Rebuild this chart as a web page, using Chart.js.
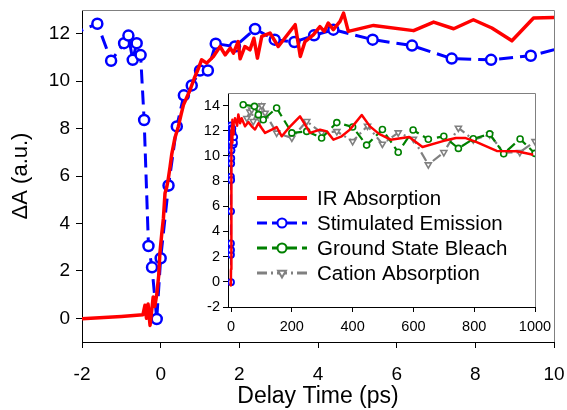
<!DOCTYPE html>
<html>
<head>
<meta charset="utf-8">
<script src="https://cdn.jsdelivr.net/npm/chart.js@4.4.1/dist/chart.umd.min.js"></script>
<style>
  html, body { margin: 0; padding: 0; background: #fff; }
  #wrap { position: relative; width: 567px; height: 410px; }
  #mainChart { position: absolute; left: 0; top: 0; }
  #insetChart { position: absolute; left: 188px; top: 84px; }
</style>
</head>
<body>
<div id="wrap">
  <canvas id="mainChart" width="567" height="410"></canvas>
  <canvas id="insetChart" width="372" height="262"></canvas>
</div>
<script>
// IR absorption, short delays (ps)
const irTime = [-2.0, -1.0, -0.45, -0.40, -0.36, -0.32, -0.27, -0.23, -0.19, -0.15, -0.10, -0.05, -0.02,
  0.03, 0.07, 0.11, 0.15, 0.19, 0.24, 0.28, 0.36, 0.45, 0.52, 0.58, 0.66, 0.75, 0.85, 0.95, 1.04,
  1.17, 1.34, 1.51, 1.64, 1.77, 1.85, 1.97, 2.02, 2.14, 2.27, 2.37, 2.46, 2.57, 2.78, 2.99, 3.42,
  3.55, 3.67, 3.88, 4.05, 4.16, 4.26, 4.39, 4.56, 4.65, 4.77, 5.41, 6.43, 6.94, 7.45, 7.95, 8.42,
  8.93, 9.48, 10.03];
const irValue = [-0.02, 0.08, 0.15, 0.55, 0.0, 0.6, -0.3, 0.3, 0.9, 0.5, 1.0, 1.8, 2.74,
  3.6, 4.22, 5.27, 5.5, 5.84, 6.4, 6.9, 7.59, 8.09, 8.6, 9.0, 9.3, 9.64, 10.1, 10.5, 10.9,
  10.76, 11.04, 11.46, 11.11, 11.39, 11.18, 11.67, 10.94, 11.46, 11.32, 11.81, 10.97, 11.89, 12.03, 11.46, 12.38,
  11.04, 11.67, 11.95, 12.3, 12.1, 12.45, 12.17, 12.52, 12.87, 12.1, 12.35, 12.13, 12.49, 12.21, 12.59, 12.24,
  11.7, 12.66, 12.69];

// IR absorption, long delays (inset only)
const irLongTime = [13, 20, 24, 30, 35, 46, 57, 68, 79, 90, 101, 112, 134, 150, 167, 189, 227, 260, 293, 315,
  337, 364, 391, 430, 457, 487, 525, 586, 630, 700, 740, 770, 808, 874, 940, 994];
const irLongValue = [13.0, 12.4, 13.3, 12.6, 13.0, 12.35, 12.7, 12.35, 12.1, 12.6, 12.2, 11.83, 12.09, 12.3, 11.56, 12.2, 13.14, 11.83, 12.09, 11.95,
  11.29, 11.56, 12.09, 13.25, 12.35, 11.75, 11.29, 11.5, 10.71, 11.2, 11.43, 11.43, 11.1, 10.4, 10.37, 10.1];

// Stimulated emission (ps)
const seTime = [-2.3, -1.61, -1.26, -0.93, -0.82, -0.71, -0.61, -0.51, -0.42, -0.31, -0.22, -0.10, 0.0,
  0.20, 0.41, 0.59, 0.79, 1.0, 1.2, 1.40, 1.89, 2.40, 2.90, 3.40, 3.90, 4.39, 5.39, 6.39, 7.40, 8.40, 9.41, 10.4];
const seValue = [11.95, 12.42, 10.86, 11.6, 11.92, 10.9, 11.6, 11.1, 8.36, 3.05, 2.15, -0.03, 2.53,
  5.6, 8.09, 9.4, 9.82, 10.45, 10.45, 11.58, 11.46, 12.2, 11.75, 11.65, 11.93, 12.17, 11.75, 11.5, 10.95, 10.9, 11.07, 11.5];

// Ground state bleach (inset)
const gsbTime = [40, 77, 90, 106, 150, 200, 249, 298, 348, 400, 446, 498, 550, 599, 649, 700, 748, 797, 851, 897, 951, 1000];
const gsbValue = [14.07, 13.94, 13.28, 12.88, 13.81, 11.83, 11.95, 11.43, 12.65, 12.3, 10.86, 12.1, 10.29, 12.06, 11.32, 11.56, 10.6, 11.36, 11.75, 10.18, 11.35, 10.2];

// Cation absorption (inset)
const cationTime = [52, 62, 68, 73, 90, 95, 101, 112, 150, 200, 249, 298, 348, 400, 449, 498, 550, 600, 649, 700, 748, 797, 851, 897, 950, 1000];
const cationValue = [13.0, 13.5, 13.67, 12.75, 13.8, 12.88, 14.0, 13.41, 11.83, 11.43, 12.75, 11.83, 11.95, 11.16, 12.38, 10.95, 11.85, 11.35, 9.31, 10.29, 12.22, 11.29, 11.69, 10.27, 10.29, 11.16];

const mainXTicks = [-2, 0, 2, 4, 6, 8, 10];
const mainYTicks = [0, 2, 4, 6, 8, 10, 12];
const insetXTicks = [0, 200, 400, 600, 800, 1000];
const insetYTicks = [-2, 0, 2, 4, 6, 8, 10, 12, 14];
const legendLabels = ["IR Absorption", "Stimulated Emission", "Ground State Bleach", "Cation Absorption"];

const RED = "#ff0000", BLUE = "#0000ff", GREEN = "#008000", GRAY = "#808080";
const FONT = "'Liberation Sans', Arial, sans-serif";

Chart.defaults.font.family = FONT;
Chart.defaults.color = "#000";

function toPoints(xs, ys) {
    return xs.map((x, i) => ({ x: x, y: ys[i] }));
}

function axis(min, max, ticks, fontSize, tickLen, pad, fit) {
    return {
        type: "linear",
        min: min,
        max: max,
        afterBuildTicks: s => { s.ticks = ticks.map(v => ({ value: v })); },
        afterFit: s => {
            fit(s);
            // no extra room for overflowing labels, the layout padding sets the plot box
            s.paddingTop = s.paddingBottom = s.paddingLeft = s.paddingRight = 0;
        },
        grid: { drawOnChartArea: false, color: "#000", tickColor: "#000", tickLength: tickLen, lineWidth: 1 },
        border: { display: true, color: "#000", width: 1 },
        ticks: { font: { size: fontSize }, padding: pad, maxRotation: 0, autoSkip: false, callback: v => String(v) }
    };
}

// grey top/right frame and optional white plot background
const framePlugin = {
    id: "frame",
    beforeDraw(chart, args, opts) {
        if (opts.fill) {
            const a = chart.chartArea, ctx = chart.ctx;
            ctx.save();
            ctx.fillStyle = opts.fill;
            ctx.fillRect(a.left, a.top, a.right - a.left, a.bottom - a.top);
            ctx.restore();
        }
    },
    afterDraw(chart) {
        const a = chart.chartArea, ctx = chart.ctx;
        ctx.save();
        ctx.strokeStyle = GRAY;
        ctx.lineWidth = 1;
        ctx.beginPath();
        ctx.moveTo(Math.round(a.left), Math.round(a.top) + 0.5);
        ctx.lineTo(Math.round(a.right) + 0.5, Math.round(a.top) + 0.5);
        ctx.lineTo(Math.round(a.right) + 0.5, Math.round(a.bottom));
        ctx.stroke();
        ctx.restore();
    }
};

// legend drawn inside the inset
const insetLegend = {
    id: "insetLegend",
    afterDraw(chart) {
        const ctx = chart.ctx;
        const x0 = 69, x1 = 119, tx = 129;
        const rows = [114, 139, 164, 189];
        chart.data.datasets.forEach((ds, i) => {
            const y = rows[i];
            ctx.save();
            ctx.strokeStyle = ds.borderColor;
            ctx.lineWidth = ds.legendWidth;
            ctx.setLineDash(ds.borderDash || []);
            ctx.beginPath();
            ctx.moveTo(x0, y);
            ctx.lineTo(x1, y);
            ctx.stroke();
            ctx.setLineDash([]);
            if (ds.pointRadius > 0) {
                ctx.fillStyle = "#fff";
                ctx.strokeStyle = ds.borderColor;
                ctx.lineWidth = 2;
                Chart.helpers.drawPoint(ctx, {
                    pointStyle: ds.pointStyle, radius: 4.5, rotation: ds.pointRotation || 0, borderWidth: 2
                }, (x0 + x1) / 2, y);
            }
            ctx.fillStyle = "#000";
            ctx.font = "20.5px " + FONT;
            ctx.textBaseline = "middle";
            ctx.fillText(legendLabels[i], tx, y + 1);
            ctx.restore();
        });
    }
};

document.addEventListener("DOMContentLoaded", function () {
    const mainX = axis(-2, 10, mainXTicks, 19, 6, 15, s => { s.height = 68; });
    mainX.title = { display: true, text: "Delay Time (ps)", font: { size: 23 }, padding: { top: 0, bottom: 0 } };
    const mainY = axis(-1, 13, mainYTicks, 19, 6, 6, s => { s.width = 82; });
    mainY.title = { display: true, text: "\u0394A (a.u.)", font: { size: 22 }, padding: { top: 8, bottom: 0 } };

    new Chart(document.getElementById("mainChart"), {
        type: "line",
        data: {
            datasets: [
                {
                    label: "IR Absorption", data: toPoints(irTime, irValue),
                    borderColor: RED, borderWidth: 3.5, borderJoinStyle: "round", pointRadius: 0, tension: 0
                },
                {
                    label: "Stimulated Emission", data: toPoints(seTime, seValue),
                    borderColor: BLUE, borderWidth: 3, borderDash: [14, 7], borderJoinStyle: "round", tension: 0,
                    pointStyle: "circle", pointRadius: 5, pointBorderWidth: 2.5,
                    pointBackgroundColor: "#fff", pointBorderColor: BLUE
                }
            ]
        },
        options: {
            responsive: false,
            animation: false,
            devicePixelRatio: 1,
            layout: { padding: { top: 10, right: 13, left: 0, bottom: 0 } },
            plugins: { legend: { display: false }, tooltip: { enabled: false }, frame: {} },
            scales: { x: mainX, y: mainY }
        },
        plugins: [framePlugin]
    });

    const inX = axis(-10, 1000, insetXTicks, 14.5, 5, 6, s => { s.height = 39; });
    const inY = axis(-2, 15, insetYTicks, 14.5, 5, 3, s => { s.width = 40; });

    new Chart(document.getElementById("insetChart"), {
        type: "line",
        data: {
            datasets: [
                {
                    label: legendLabels[0], data: toPoints(irTime.concat(irLongTime), irValue.concat(irLongValue)),
                    borderColor: RED, borderWidth: 2.5, borderJoinStyle: "round", legendWidth: 4, pointRadius: 0, tension: 0
                },
                {
                    label: legendLabels[1], data: toPoints(seTime, seValue),
                    borderColor: BLUE, borderWidth: 2, legendWidth: 3, borderDash: [10, 5], tension: 0,
                    pointStyle: "circle", pointRadius: 3, pointBorderWidth: 1.8,
                    pointBackgroundColor: "#fff", pointBorderColor: BLUE
                },
                {
                    label: legendLabels[2], data: toPoints(gsbTime, gsbValue),
                    borderColor: GREEN, borderWidth: 2.2, legendWidth: 3, borderDash: [10, 5], tension: 0,
                    pointStyle: "circle", pointRadius: 3, pointBorderWidth: 1.6,
                    pointBackgroundColor: "#fff", pointBorderColor: GREEN
                },
                {
                    label: legendLabels[3], data: toPoints(cationTime, cationValue),
                    borderColor: GRAY, borderWidth: 2.2, legendWidth: 3, borderDash: [10, 4, 2, 4], tension: 0,
                    pointStyle: "triangle", pointRotation: 180, pointRadius: 3.5, pointBorderWidth: 1.6,
                    pointBackgroundColor: "#fff", pointBorderColor: GRAY
                }
            ]
        },
        options: {
            responsive: false,
            animation: false,
            devicePixelRatio: 1,
            layout: { padding: { top: 9, right: 25, left: 0, bottom: 0 } },
            plugins: { legend: { display: false }, tooltip: { enabled: false }, frame: { fill: "#fff" } },
            scales: { x: inX, y: inY }
        },
        plugins: [framePlugin, insetLegend]
    });
});
</script>
</body>
</html>
